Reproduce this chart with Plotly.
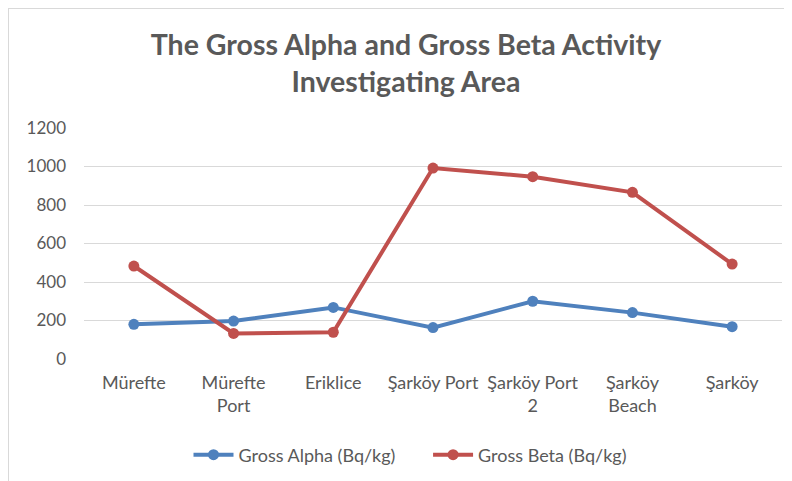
import plotly.graph_objects as go

categories = ["Mürefte", "Mürefte<br>Port", "Eriklice", "Şarköy Port", "Şarköy Port<br>2", "Şarköy<br>Beach", "Şarköy"]
gross_alpha = [180, 197, 268, 163, 300, 241, 168]
gross_beta = [483, 133, 139, 992, 947, 866, 493]
y_ticks = [0, 200, 400, 600, 800, 1000, 1200]
series_names = ["Gross Alpha (Bq/kg)", "Gross Beta (Bq/kg)"]

FONT = "Lato"
GRAY = "#595959"

fig = go.Figure()
fig.add_trace(go.Scatter(
    x=categories, y=gross_alpha, mode="lines+markers", name=series_names[0] + "&nbsp;" * 6,
    line=dict(color="#4F81BD", width=4), marker=dict(size=11, color="#4F81BD"),
))
fig.add_trace(go.Scatter(
    x=categories, y=gross_beta, mode="lines+markers", name=series_names[1],
    line=dict(color="#C0504D", width=4), marker=dict(size=11, color="#C0504D"),
))

fig.update_layout(
    width=792, height=481,
    margin=dict(l=76, r=18, t=120, b=130),
    paper_bgcolor="white", plot_bgcolor="white",
    font=dict(family=FONT, color=GRAY, size=18),
    title=dict(
        text="<b>The Gross Alpha and Gross Beta Activity<br>Investigating Area</b>",
        x=398 / 792, xanchor="center", y=1 - 47 / 481, yanchor="middle",
        font=dict(family=FONT, size=28.5, color=GRAY),
    ),
    xaxis=dict(
        type="category", range=[-0.5, 6.5], showgrid=False, showline=False,
        ticks="", tickfont=dict(size=18, color=GRAY), automargin=False,
        ticklabelstandoff=11,
    ),
    yaxis=dict(
        range=[0, 1200], tickvals=y_ticks, showgrid=True, gridcolor="#D9D9D9",
        gridwidth=1.2, zeroline=False, showline=False, ticks="", ticklabelstandoff=17,
        tickfont=dict(size=17, color=GRAY), automargin=False,
    ),
    legend=dict(
        orientation="h", x=(402 - 76) / 698, xanchor="center", y=-(447 - 351) / 231, yanchor="middle",
        font=dict(size=18, color=GRAY), itemwidth=40,
    ),
    showlegend=True,
)

fig.add_shape(type="rect", xref="paper", yref="paper",
              x0=-76 / 698, x1=1.2, y0=-1, y1=1 + 120 / 231,
              line=dict(color="#D9D9D9", width=2), fillcolor="rgba(0,0,0,0)", layer="below")

fig.write_html("out.html")
